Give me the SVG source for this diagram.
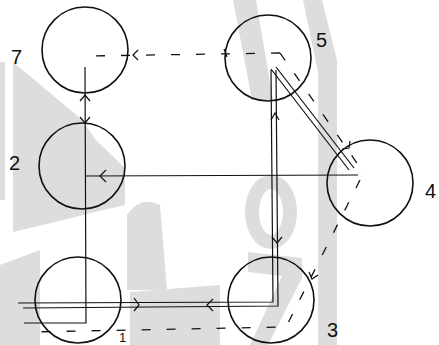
<svg xmlns="http://www.w3.org/2000/svg" width="439" height="345" viewBox="0 0 439 345">
<style>
.wm{fill:#dddddd;stroke:none}
.node{fill:none;stroke:#111;stroke-width:1.6}
.ln{fill:none;stroke:#111;stroke-width:1.2}
.ds{fill:none;stroke:#111;stroke-width:1.3;stroke-dasharray:9 16}
.ar{fill:none;stroke:#111;stroke-width:1.2}
.lbl{font-family:"Liberation Sans",Arial,sans-serif;font-size:20px;fill:#111}
</style>
<rect width="439" height="345" fill="#fff"/>
<g id="watermark">
<polygon class="wm" points="0,62 5,62 5,200 0,200"/>
<polygon class="wm" points="13,62 80,118 96,140 125,168 125,205 95,212 55,222 13,232"/>
<path class="wm" d="M127,215 Q140,195 160,205 L167,290 L127,290 Z"/>
<polygon class="wm" points="0,265 40,250 40,345 0,345"/>
<polygon class="wm" points="130,292 220,285 220,345 130,345"/>
<polygon class="wm" points="233,0 256,0 273,100 252,100"/>
<ellipse cx="271" cy="212" rx="19" ry="30" fill="none" stroke="#dddddd" stroke-width="14"/>
<polygon class="wm" points="248,252 302,258 302,278 268,345 250,345 282,276 248,272"/>
<polygon class="wm" points="303,0 322,0 337,60 337,345 318,345 318,72"/>
</g>
<g id="connectors">
<path class="ln" d="M85,67 L86,323 L24,323"/>
<path class="ln" d="M358,175 L85,176"/>
<path class="ds" d="M280,53 L88,56"/>
<path class="ds" d="M280,53 L366,176"/>
<path class="ds" d="M360,180 L286,327 L28,332"/>
<path class="ln" d="M271,70 L273,302 L18,303"/>
<path class="ln" d="M276,70 L278,306 L23,308"/>
<path class="ln" d="M271,69 L349,170"/>
<path class="ln" d="M276,67 L354,168"/>
<path class="ar" d="M80,101 L85,95 L90,101"/>
<path class="ar" d="M80,117 L85,123 L90,117"/>
<path class="ar" d="M106,170 L100,176 L106,182"/>
<path class="ar" d="M138,50 L133,55 L138,60"/>
<path class="ar" d="M271,120 L275,113 L279,120"/>
<path class="ar" d="M272,237 L277,243 L282,237"/>
<path class="ar" d="M134,298 L139,305 L134,311"/>
<path class="ar" d="M213,299 L207,305 L213,311"/>
<path class="ar" d="M342,149 L349,148 L350,141"/>
<path class="ar" d="M309,272 L312,279 L318,275"/>
<path class="ar" d="M224,49 L227,57"/>
</g>
<g id="n7"><circle class="node" cx="85" cy="50" r="43"/><text class="lbl" x="11" y="64">7</text></g>
<g id="n2"><circle class="node" cx="82" cy="166" r="43"/><text class="lbl" x="9" y="170">2</text></g>
<g id="n1"><circle class="node" cx="78" cy="300" r="43"/><text class="lbl" x="119" y="342" style="font-size:13px">1</text></g>
<g id="n5"><circle class="node" cx="268" cy="58" r="43"/><text class="lbl" x="316" y="47">5</text></g>
<g id="n4"><circle class="node" cx="370" cy="183" r="43"/><text class="lbl" x="425" y="198">4</text></g>
<g id="n3"><circle class="node" cx="271" cy="300" r="43"/><text class="lbl" x="327" y="337">3</text></g>
</svg>
